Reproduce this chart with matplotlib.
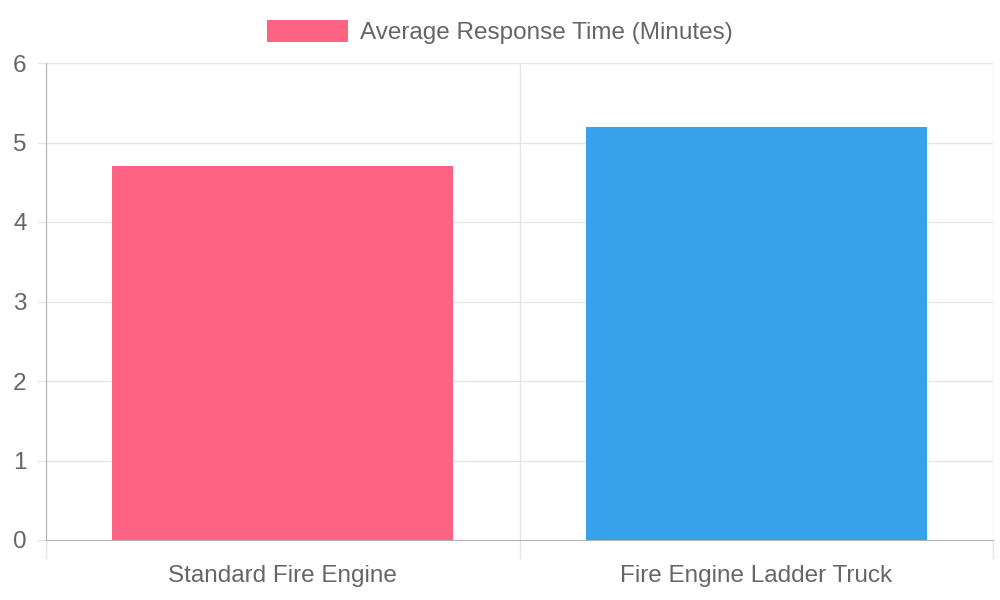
import matplotlib
matplotlib.use("Agg")
import matplotlib.pyplot as plt
from matplotlib.patches import Patch

categories = ["Standard Fire Engine", "Fire Engine Ladder Truck"]
values = [4.7, 5.2]
colors = ["#FF6384", "#36A2EB"]
series_label = "Average Response Time (Minutes)"
yticks = [0, 1, 2, 3, 4, 5, 6]

plt.rcParams['font.family'] = ['Liberation Sans', 'DejaVu Sans']
fig = plt.figure(figsize=(10, 6), dpi=100)
ax = fig.add_axes([0.046, 0.1, 0.947, 0.795])

x = list(range(len(categories)))
ax.bar(x, values, width=0.72, color=colors, zorder=3)
ax.set_xlim(-0.5, len(categories) - 0.5)
ax.set_ylim(0, 6)
ax.set_yticks(yticks)
ax.set_yticklabels([str(t) for t in yticks])
ax.set_xticks(x)
ax.set_xticklabels(categories)

grid_c = "#e5e5e5"
for t in yticks[1:]:
    ax.axhline(t, color=grid_c, lw=1, zorder=1)
for b in [-0.5, 0.5, 1.5]:
    ax.axvline(b, color=grid_c, lw=1, zorder=1)
    ax.plot([b, b], [0, -0.23], color=grid_c, lw=1, clip_on=False, zorder=1)
for t in yticks:
    ax.plot([-0.5 - 0.017, -0.5], [t, t], color=grid_c, lw=1, clip_on=False, zorder=1)

for s in ["top", "right"]:
    ax.spines[s].set_visible(False)
ax.spines["left"].set_color("#b3b3b3")
ax.spines["bottom"].set_color("#b3b3b3")
ax.tick_params(axis="both", length=0, colors="#666666", labelsize=17.5)
ax.tick_params(axis="y", pad=14)
ax.tick_params(axis="x", pad=18)

handle = Patch(facecolor=colors[0], edgecolor="none")
fig.legend([handle], [series_label], loc="center", bbox_to_anchor=(0.5, 0.947),
           frameon=False, fontsize=17.5, labelcolor="#666666",
           handlelength=3.3, handleheight=1.05, handletextpad=0.5)

fig.savefig("out.png", dpi=100, facecolor="white")
